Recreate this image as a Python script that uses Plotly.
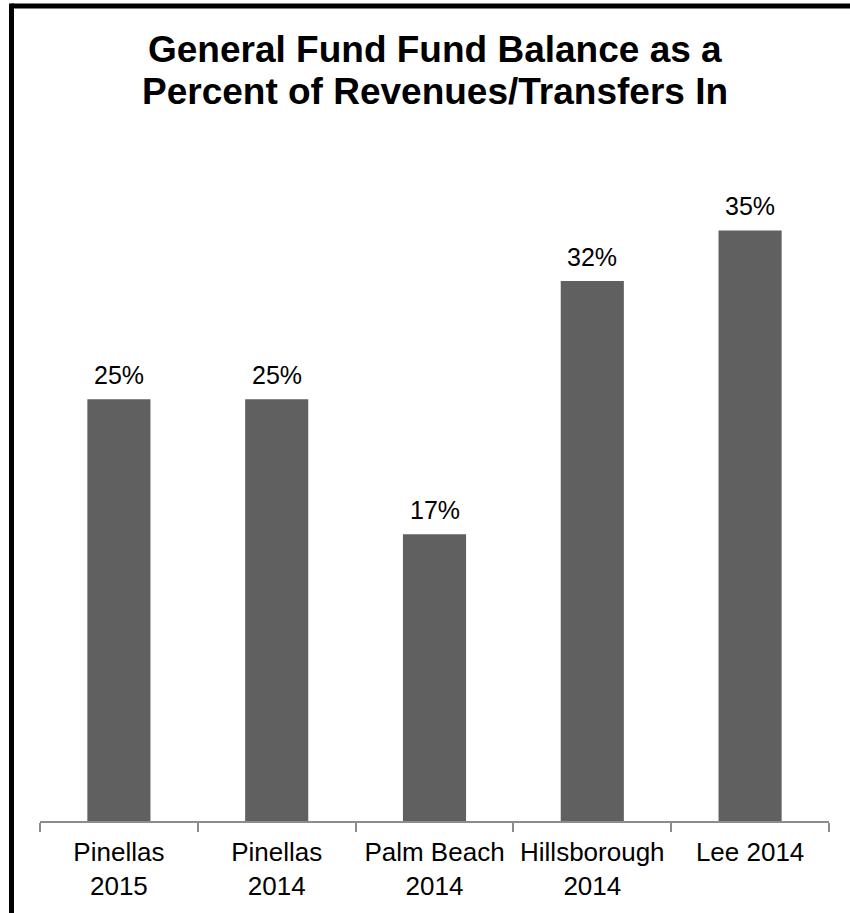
import plotly.graph_objects as go

# Fund balance as a share of revenues / transfers in
categories = ["Pinellas<br>2015", "Pinellas<br>2014", "Palm Beach<br>2014",
              "Hillsborough<br>2014", "Lee 2014"]
values = [25, 25, 17, 32, 35]
labels = ["25%", "25%", "17%", "32%", "35%"]
title_lines = ["General Fund Fund Balance as a",
               "Percent of Revenues/Transfers In"]

W, H = 850, 913
ML, MR, MT, MB = 40, 21, 146, 90
PW, PH = W - ML - MR, H - MT - MB


def px_x(X):
    return (X - ML) / PW


def px_y(Y):
    return (H - MB - Y) / PH


FONT = "Liberation Sans, Arial, sans-serif"
BAR = "#606060"
AXIS = "#8c8c8c"

fig = go.Figure(go.Bar(
    x=categories, y=values, width=0.4,
    marker=dict(color=BAR, line=dict(width=0)),
    hoverinfo="skip",
))

annotations = []
for c, v, t in zip(categories, values, labels):
    annotations.append(dict(
        x=c, y=v, xref="x", yref="y", text=t, showarrow=False,
        yanchor="bottom", yshift=8,
        font=dict(family=FONT, size=25, color="#000000"),
    ))

for line, yc in zip(title_lines, [49.5, 91]):
    annotations.append(dict(
        x=px_x(435), y=px_y(yc), xref="paper", yref="paper",
        text="<b>" + line + "</b>", showarrow=False,
        xanchor="center", yanchor="middle",
        font=dict(family=FONT, size=37, color="#000000"),
    ))

# frame: heavy rules along the top and left edges
shapes = [
    dict(type="line", xref="paper", yref="paper",
         x0=px_x(11.5), x1=px_x(860), y0=px_y(5.5), y1=px_y(5.5),
         line=dict(color="#000000", width=5)),
    dict(type="line", xref="paper", yref="paper",
         x0=px_x(11.5), x1=px_x(11.5), y0=px_y(3), y1=px_y(920),
         line=dict(color="#000000", width=5)),
]

fig.update_layout(
    width=W, height=H,
    margin=dict(l=ML, r=MR, t=MT, b=MB, pad=0),
    paper_bgcolor="#ffffff", plot_bgcolor="#ffffff",
    showlegend=False,
    annotations=annotations,
    shapes=shapes,
    font=dict(family=FONT, color="#000000"),
)

fig.update_xaxes(
    type="category",
    showline=True, linecolor=AXIS, linewidth=1.5,
    ticks="outside", tickson="boundaries", ticklen=9, tickwidth=1.5,
    tickcolor=AXIS, ticklabelstandoff=7,
    tickfont=dict(family=FONT, size=26, color="#000000"),
    showgrid=False, zeroline=False, fixedrange=True,
)
fig.update_yaxes(
    range=[0, 40], visible=False, showgrid=False, zeroline=False,
    fixedrange=True,
)

fig.write_html("out.html", config={"displayModeBar": False})
